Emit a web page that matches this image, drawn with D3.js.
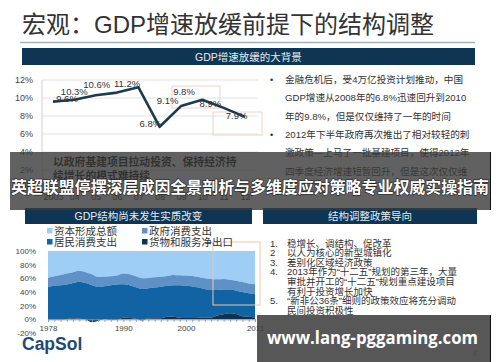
<!DOCTYPE html>
<html>
<head>
<meta charset="utf-8">
<script src="https://cdn.jsdelivr.net/npm/d3@7"></script>
<style>
  body { margin: 0; background: #fff; }
  text { font-family: "Liberation Sans", "Noto Sans CJK SC", sans-serif; }
</style>
</head>
<body>
<div id="chart"></div>
<script>
// GDP growth (top left)
const gdpYears = ['2003', '04', '05', '06', '07', '08', '09', '10', '11', '12'];
const gdpGrowth = [9.6, 9.8, 10.3, 10.6, 11.2, 6.8, 9.1, 9.8, 8.9, 7.9];
const gdpShowLabel = [true, false, true, true, true, true, true, true, true, true];
const gdpTicks = [0, 2, 4, 6, 8, 10, 12];

// GDP structure (bottom left), share of GDP in %
const structYears = d3.range(1978, 2012);
const netExport = [-0.3, -0.3, -0.3, 0.3, 1.5, 0.7, -0.2, -4.0, -2.0, 0.1, -0.8, -0.6, 2.5, 2.0, 1.0, -1.5, 1.3,
  1.6, 1.7, 3.9, 3.7, 2.5, 2.1, 2.0, 2.5, 2.4, 2.6, 5.5, 7.5, 8.8, 7.9, 4.4, 3.7, 2.6];
const household = [47.3, 49.3, 50.3, 50.7, 51.5, 54.3, 53.2, 54.0, 49.5, 48.4, 50.8, 51.6, 49.0, 48.0, 46.0, 46.0, 44.2,
  44.9, 46.1, 45.1, 46.3, 47.5, 46.9, 46.0, 44.0, 42.1, 40.4, 37.5, 36.0, 34.7, 34.1, 35.6, 34.3, 34.0];
const government = [14.0, 14.0, 15.0, 16.0, 16.0, 16.0, 16.0, 16.0, 14.5, 14.0, 13.0, 13.0, 15.5, 16.0, 16.0, 15.5, 15.0,
  15.0, 14.6, 14.5, 15.0, 14.5, 15.0, 15.5, 15.5, 15.5, 16.0, 15.5, 15.5, 14.5, 14.5, 14.5, 14.5, 14.6];
const capital = [39.0, 37.0, 35.0, 33.0, 31.0, 29.0, 31.0, 34.0, 38.0, 37.5, 37.0, 36.0, 33.0, 34.0, 37.0, 40.0, 39.5,
  38.5, 37.6, 36.5, 35.0, 35.5, 36.0, 36.5, 38.0, 40.0, 41.0, 41.5, 41.0, 42.0, 43.5, 45.5, 47.5, 48.8];
const structTicks = [-20, 0, 20, 40, 60, 80, 100];
const structYearLabels = [1978, 1990, 2000, 2011];
const seriesNames = ['资本形成总额', '政府消费支出', '居民消费支出', '货物和服务净出口'];

const W = 500, H = 362;
const navy = '#0e3553';

const svg = d3.select('#chart').append('svg')
  .attr('width', W).attr('height', H);
svg.append('rect').attr('width', W).attr('height', H).attr('fill', '#fff');

// title
svg.append('text').attr('x', 22).attr('y', 33)
  .attr('font-size', 24).attr('fill', '#333')
  .text('宏观：GDP增速放缓前提下的结构调整');
svg.append('line').attr('x1', 20).attr('x2', 475).attr('y1', 42.5).attr('y2', 42.5)
  .attr('stroke', '#9fb2c2').attr('stroke-width', 1.5);

function header(x, y, w, h, label) {
  svg.append('rect').attr('x', x).attr('y', y).attr('width', w).attr('height', h).attr('fill', navy);
  svg.append('text').attr('x', x + w / 2).attr('y', y + h / 2 + 4)
    .attr('text-anchor', 'middle').attr('font-size', 10.5).attr('fill', '#e4ebf1')
    .text(label);
}
header(22, 48, 453, 17, 'GDP增速放缓的大背景');
header(25, 208, 227, 16, 'GDP结构尚未发生实质改变');
header(263, 208, 214, 16, '结构调整政策导向');

// ---- line chart ----
const x = d3.scalePoint().domain(gdpYears).range([53, 245]);
const y = d3.scaleLinear().domain([0, 12]).range([188, 80]);

const g1 = svg.append('g');
g1.selectAll('.grid').data(gdpTicks).enter().append('line')
  .attr('x1', 42).attr('x2', 258)
  .attr('y1', d => y(d)).attr('y2', d => y(d))
  .attr('stroke', '#e2e2e2');
g1.append('line').attr('x1', 42).attr('x2', 42).attr('y1', y(12)).attr('y2', y(0)).attr('stroke', '#d0d0d0');

const yAxis = d3.axisLeft(y).tickValues(gdpTicks).tickSize(0).tickPadding(9).tickFormat(d => d + '%');
g1.append('g').attr('transform', 'translate(42,0)').call(yAxis)
  .call(g => g.select('.domain').remove())
  .selectAll('text').attr('font-size', 9).attr('fill', '#444')
  .style('font-family', 'Liberation Sans');

const xAxis = d3.axisBottom(x).tickSize(0).tickPadding(6);
g1.append('g').attr('transform', 'translate(0,' + y(0) + ')').call(xAxis)
  .call(g => g.select('.domain').remove())
  .selectAll('text').attr('font-size', 9).attr('fill', '#333')
  .style('font-family', 'Liberation Sans');

// faint highlight boxes
g1.append('rect').attr('x', 172).attr('y', 86).attr('width', 48).attr('height', 22)
  .attr('fill', 'none').attr('stroke', '#f3cfc8');
g1.append('rect').attr('x', 213).attr('y', 112).attr('width', 49).attr('height', 23)
  .attr('fill', 'none').attr('stroke', '#f3cfc8');

const line = d3.line().x((d, i) => x(gdpYears[i])).y(d => y(d));
g1.append('path').datum(gdpGrowth).attr('d', line)
  .attr('fill', 'none').attr('stroke', '#1d3b4c').attr('stroke-width', 2.6)
  .attr('stroke-linejoin', 'round');

const labelNudge = [[14, 0], [0, 0], [1, -5], [10, 0], [12, 0], [8, -2], [3, -5], [8, -1], [13, 2], [-1, 13]];
g1.selectAll('.vlab').data(gdpGrowth).enter().filter((d, i) => gdpShowLabel[i]).append('text')
  .attr('x', (d, i) => x(gdpYears[i]) + labelNudge[i][0])
  .attr('y', (d, i) => y(d) + labelNudge[i][1])
  .attr('text-anchor', 'middle').attr('font-size', 9.5).attr('fill', '#333')
  .text(d => d.toFixed(1) + '%');

// ---- right text blocks ----
const topBullets = [
  ['金融危机后，受4万亿投资计划推动，中国', 'GDP增速从2008年的6.8%迅速回升到2010', '年的9.8%，但是仅仅维持了一年的时间'],
  ['2012年下半年政府再次推出了相对较轻的刺', '激政策—上马了一批基建项目，使得2012年', '四季度经济增速短暂回升，但是这次仅仅维']
];
let ty = 83;
topBullets.forEach(lines => {
  svg.append('text').attr('x', 270).attr('y', ty).attr('font-size', 9).attr('fill', '#333').text('•');
  lines.forEach(l => {
    svg.append('text').attr('x', 285).attr('y', ty).attr('font-size', 9.6).attr('fill', '#333').text(l);
    ty += 18.3;
  });
});

const policy = [
  ['1.', ['稳增长、调结构、促改革']],
  ['2', ['以人为核心的新型城镇化']],
  ['3.', ['差别化区域经济政策']],
  ['4.', ['2013年作为“十二五”规划的第三年，大量', '审批并开工的“十二五”规划重点建设项目', '有利于投资增长加快']],
  ['5.', ['“新非公36条”细则的政策效应将充分调动', '民间投资积极性']]
];
let py = 246.5;
policy.forEach(p => {
  svg.append('text').attr('x', 270).attr('y', py).attr('font-size', 9.5).attr('fill', '#333').text(p[0]);
  p[1].forEach(l => {
    svg.append('text').attr('x', 287).attr('y', py).attr('font-size', 9.5).attr('fill', '#333').text(l);
    py += 9.6;
  });
});

// ---- stacked area ----
const rows = structYears.map((yr, i) => ({
  year: yr, nx: netExport[i], hh: household[i], gov: government[i], cap: capital[i]
}));
const keys = ['nx', 'hh', 'gov', 'cap'];
const colors = { cap: '#9ecdf5', gov: '#5f90c6', hh: '#1163a3', nx: '#0b3257' };
const stack = d3.stack().keys(keys).offset(d3.stackOffsetNone);
const layers = stack(rows);

const sx = d3.scaleLinear().domain([1978, 2011]).range([48, 255]);
const sy = d3.scaleLinear().domain([-20, 100]).range([333, 251]);

const g2 = svg.append('g');
const area = d3.area().curve(d3.curveMonotoneX)
  .x(d => sx(d.data.year)).y0(d => sy(d[0])).y1(d => sy(d[1]));
const drawOrder = ['cap', 'gov', 'hh', 'nx'];
drawOrder.forEach(k => {
  const layer = layers.find(l => l.key === k);
  g2.append('path').datum(layer).attr('d', area).attr('fill', colors[k]);
});

const syAxis = d3.axisLeft(sy).tickValues(structTicks).tickSize(0).tickPadding(6).tickFormat(d => d + '%');
g2.append('g').attr('transform', 'translate(42,0)').call(syAxis)
  .call(g => g.select('.domain').remove())
  .selectAll('text').attr('font-size', 8).attr('fill', '#444')
  .style('font-family', 'Liberation Sans');

const sxAxis = d3.axisBottom(sx).tickValues(structYears).tickSize(2.5)
  .tickFormat(d => structYearLabels.includes(d) ? d : '');
g2.append('g').attr('transform', 'translate(0,' + sy(0) + ')').call(sxAxis)
  .call(g => g.select('.domain').attr('stroke', '#8aa0b4'))
  .call(g => g.selectAll('line').attr('stroke', '#8aa0b4'))
  .selectAll('text').attr('font-size', 8).attr('fill', '#444')
  .style('font-family', 'Liberation Sans');

g2.append('rect').attr('x', 213).attr('y', 242).attr('width', 47).attr('height', 63)
  .attr('fill', 'none').attr('stroke', '#f2c3b0').attr('stroke-width', 1);

// legend
const legendPos = [[47, 231], [142, 231], [47, 242], [142, 242]];
const legendCols = [colors.cap, colors.gov, colors.hh, colors.nx];
seriesNames.forEach((n, i) => {
  const [lx, ly] = legendPos[i];
  svg.append('rect').attr('x', lx).attr('y', ly - 3).attr('width', 5.5).attr('height', 5.5).attr('fill', legendCols[i]);
  svg.append('text').attr('x', lx + 7).attr('y', ly + 4).attr('font-size', 10.5).attr('fill', '#333').text(n);
});

// logo and page number
svg.append('text').attr('x', 22).attr('y', 350).attr('font-size', 17.5).attr('font-weight', 'bold')
  .attr('fill', '#1f4a73').text('CapSol');
svg.append('text').attr('x', 473).attr('y', 356).attr('font-size', 8).attr('fill', '#aaa').text('6');

// box note under the band
svg.append('text').attr('x', 53).attr('y', 166).attr('font-size', 10.8).attr('font-weight', 'bold')
  .attr('fill', '#111').text('以政府基建项目拉动投资、保持经济持');
svg.append('text').attr('x', 53).attr('y', 180).attr('font-size', 10.8).attr('font-weight', 'bold')
  .attr('fill', '#111').text('续增长的模式难持续');

// overlay band with headline
svg.append('rect').attr('x', 10).attr('y', 152).attr('width', 481).attr('height', 58)
  .attr('fill', '#3a3a3a').attr('opacity', 0.8);
svg.append('line').attr('x1', 490.5).attr('x2', 490.5).attr('y1', 152).attr('y2', 210).attr('stroke', '#111');
svg.append('text').attr('x', 11).attr('y', 193)
  .attr('font-size', 16).attr('font-weight', 'bold').attr('fill', '#fff')
  .attr('textLength', 478).attr('lengthAdjust', 'spacingAndGlyphs')
  .style('font-family', 'Noto Sans CJK SC')
  .style('paint-order', 'stroke').attr('stroke', '#222').attr('stroke-width', 1.2)
  .text('英超联盟停摆深层成因全景剖析与多维度应对策略专业权威实操指南');

// watermark box bottom right
svg.append('rect').attr('x', 257).attr('y', 315).attr('width', 234).attr('height', 47)
  .attr('fill', '#3a3a3a').attr('opacity', 0.85);
svg.append('line').attr('x1', 490.5).attr('x2', 490.5).attr('y1', 315).attr('y2', 362).attr('stroke', '#111');
svg.append('text').attr('x', 267).attr('y', 344)
  .attr('font-size', 17).attr('font-weight', 'bold').attr('fill', '#fff')
  .attr('textLength', 211).attr('lengthAdjust', 'spacingAndGlyphs')
  .style('font-family', 'Open Sans')
  .text('www.lang-pggaming.com');
</script>
</body>
</html>
